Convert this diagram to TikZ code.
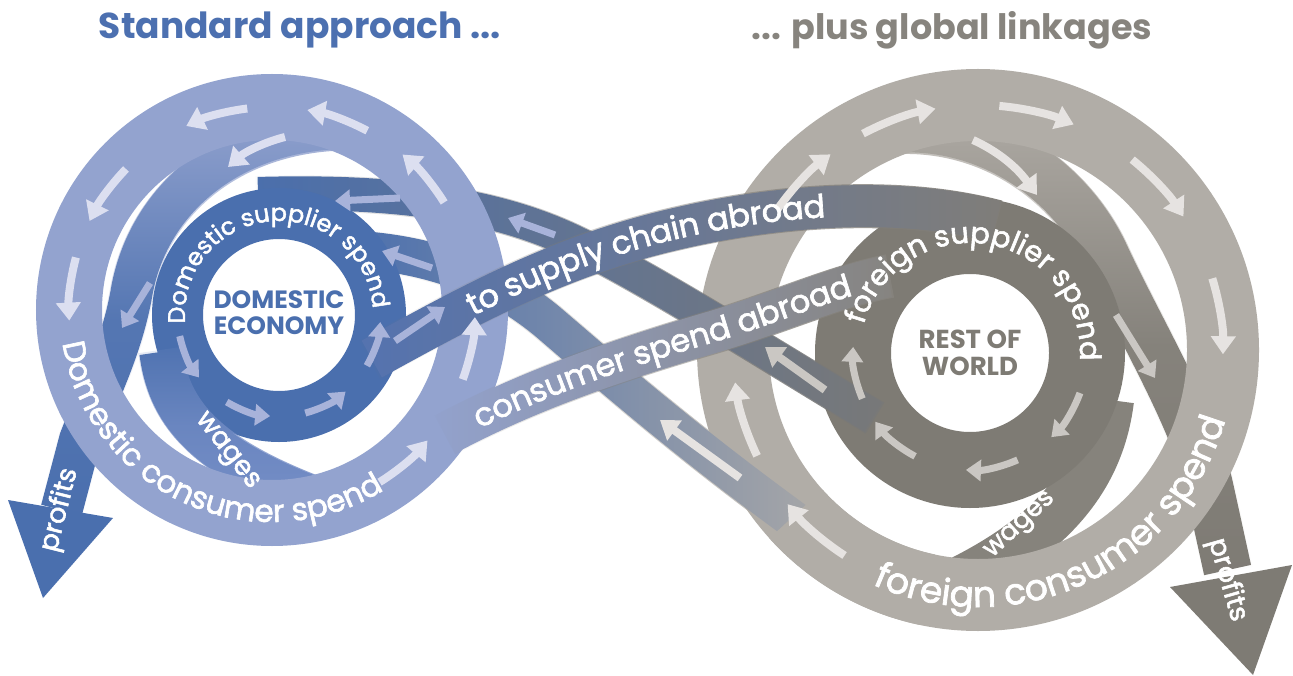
\documentclass[tikz,border=0pt]{standalone}
\usepackage{fontspec}
\setmainfont{Poppins}
\newfontfamily\labf{Poppins}[FakeBold=2]
\usetikzlibrary{arrows.meta,decorations.text,fadings}
\tikzfading[name=fadeR, left color=transparent!100, right color=transparent!0]
\tikzfading[name=fadeB, top color=transparent!100, bottom color=transparent!0, middle color=transparent!30]
\tikzfading[name=fadeT, top color=transparent!0, bottom color=transparent!100, middle color=transparent!85]
\definecolor{lb}{HTML}{93A3CF}
\definecolor{db}{HTML}{4A6FAE}
\definecolor{mb}{HTML}{7890C8}
\definecolor{lg}{HTML}{B1ADA7}
\definecolor{dg}{HTML}{7E7B74}
\definecolor{sg}{HTML}{86837D}
\definecolor{slate}{HTML}{74777C}
\definecolor{arrlb}{HTML}{DCDFF0}
\definecolor{arrdb}{HTML}{A8B3DA}
\definecolor{arrlg}{HTML}{E6E3E1}
\definecolor{arrdg}{HTML}{CAC7C3}
\definecolor{tblue}{HTML}{4C70B0}
\definecolor{tgray}{HTML}{87847E}
\definecolor{sblue}{HTML}{5473B1}
\newcommand\ringarr[5]{\draw[#1] (#2) ++({-(#4)}:#3) arc[start angle={-(#4)}, end angle={-(#5)}, radius=#3];}
\newcommand\arctext[6]{\path[decorate, decoration={text along path, text align=center, text={|#6|#5}}] (#1) ++({-(#3)}:#2) arc[start angle={-(#3)}, end angle={-(#4)}, radius=#2];}
% gradient band: #1 path, #2 width, #3 start colour, #4 end colour, #5 fading
\newcommand\gband[5]{%
  \draw[#3, line width=#2-2pt, shorten >=2pt, shorten <=2pt] #1;
  \draw[#4, line width=#2, path fading=#5] #1;}
\def\lspiral{(345,128) .. controls (235,130) and (150,195) .. (132,290) .. controls (122,350) and (95,400) .. (80,440) -- (61,512)}
\def\rspiral{(880,130) .. controls (985,118) and (1070,180) .. (1105,255) .. controls (1140,330) and (1195,420) .. (1210,490) -- (1228,572)}
\def\gone{(256,194) .. controls (400,190) and (500,205) .. (580,245) .. controls (660,285) and (770,355) .. (875,418)}
\def\gtwo{(360,250) .. controls (440,256) and (500,282) .. (548,322) .. controls (610,375) and (700,455) .. (850,560)}
\def\sone{(370,360) .. controls (470,305) and (560,255) .. (680,228) .. controls (780,205) and (900,196) .. (998,222)}
\def\stwo{(445,435) .. controls (520,395) and (600,365) .. (713,332) .. controls (780,312) and (840,285) .. (890,276)}
\def\lwages{(160,350) .. controls (168,410) and (200,455) .. (320,500)}
\def\bandfont{\color{white}\labf\fontsize{32}{32}\selectfont}
\begin{document}
\begin{tikzpicture}[x=1pt,y=-1pt,
  arr/.style={line width=8pt, -{Triangle[length=18pt,width=24pt]}},
  sarr/.style={line width=7pt, -{Triangle[length=15pt,width=21pt]}},
  lab/.style={text=white, inner sep=0pt}]
\fill[white] (0,0) rectangle (1293,676);
\useasboundingbox (0,0) rectangle (1293,676);
\coordinate (LC) at (272,310);
\coordinate (DC) at (279,315);
\coordinate (RC) at (978,350);
\coordinate (RD) at (970,353);
% spirals with profits arrows
\gband{\lspiral}{44pt}{db}{lb}{fadeT}
\fill[db] (8,500) -- (113,518) -- (43,598) -- cycle;
\gband{\rspiral}{50pt}{dg}{lg}{fadeT}
\fill[dg] (1170,587) -- (1292,565) -- (1253,675) -- cycle;
% right wages band and inner ring
\draw[dg!85!lg, line width=48pt] (1110,400) .. controls (1100,480) and (1050,540) .. (940,590);
\draw[dg, line width=76pt] (RD) circle[radius=117];
% right outer ring
\draw[lg, line width=72pt] (RC) circle[radius=245];
% flows from abroad
\gband{\gtwo}{40pt}{db}{lg}{fadeR}
\gband{\gone}{36pt}{db}{slate!55!dg}{fadeR}
\draw[lg, line width=72pt] (RC) ++(-222:245) arc[start angle=-222, end angle=-258, radius=245];
% left inner ring and wages band
\draw[db, line width=51pt] (DC) circle[radius=101.5];
\gband{\lwages}{44pt}{db}{mb}{fadeB}
% left outer ring
\draw[lb, line width=66pt] (LC) circle[radius=203];
% flows abroad
\gband{\stwo}{44pt}{lb}{sg}{fadeR}
\gband{\sone}{44pt}{sblue}{sg!40!dg}{fadeR}
% arrows
\foreach \a in {41,71,106,145,174,311,349} {\ringarr{arr,arrlb}{LC}{203}{\a-9}{\a+9}}
\foreach \a in {205,252,298,343} {\ringarr{sarr,arrdb}{DC}{101.5}{\a-13}{\a+13}}
\foreach \a in {136,109,76,42,8,196.6,228} {\ringarr{arr,arrlg}{RC}{245}{\a+9}{\a-9}}
\foreach \a in {190,229,281,327} {\ringarr{sarr,arrdg}{RD}{117}{\a+13}{\a-13}}
\draw[arr, arrlb] (285,137) .. controls (265,142) and (245,152) .. (228,167);
\draw[sarr, arrdb] (150,283) -- (122,328);
\draw[sarr, arrdb] (400,198) -- (335,201);
\draw[sarr, arrdb] (555,235) -- (508,218);
\draw[arr, arrdg] (825,390) -- (765,347);
\draw[sarr, arrdb] (432,268) -- (382,251);
\draw[arr, arrlg] (740,478) -- (660,420);
\draw[sarr, arrdb] (395,341) -- (445,307);
\draw[arr, arrlg] (973,140) .. controls (995,150) and (1015,165) .. (1037,195);
\draw[sarr, arrdg] (1116,315) -- (1155,378);
% texts
\node[font=\bfseries\fontsize{36}{36}\selectfont, text=tblue] (t1) at (300,30) {Standard approach ...};
\node[font=\bfseries\fontsize{35}{35}\selectfont, text=tgray] (t2) at (952,30) {... plus global linkages};
\node[font=\bfseries\fontsize{25}{26}\selectfont, text=db, align=center] (dom) at (279,313) {DOMESTIC\\ECONOMY};
\node[font=\bfseries\fontsize{26}{27}\selectfont, text=dg, align=center] (row) at (970,353) {REST OF\\WORLD};
\arctext{LC}{212}{180}{311}{Domestic consumer spend}{\color{white}\labf\fontsize{31}{31}\selectfont}
\arctext{RC}{257}{225}{365}{foreign consumer spend}{\color{white}\labf\fontsize{36}{36}\selectfont}
\arctext{DC}{94}{205}{-16}{Domestic supplier spend}{\color{white}\labf\fontsize{24}{24}\selectfont}
\arctext{RD}{110}{190}{-29}{foreign supplier spend}{\color{white}\labf\fontsize{29}{29}\selectfont}
\path[decorate, decoration={text along path, raise=-10pt, text align={left, left indent=112pt}, text={|\bandfont|to supply chain abroad}}] \sone;
\path[decorate, decoration={text along path, raise=-10pt, text align={left, left indent=34pt}, text={|\bandfont|consumer spend abroad}}] \stwo;
\node[lab, rotate=76, font=\labf\fontsize{27}{27}\selectfont] (p1) at (60,510) {profits};
\node[lab, rotate=-74, font=\labf\fontsize{27}{27}\selectfont] (p2) at (1227,580) {profits};
\node[lab, rotate=-52, font=\labf\fontsize{27}{27}\selectfont] (w1) at (226,452) {wages};
\node[lab, rotate=43, font=\labf\fontsize{26}{26}\selectfont] (w2) at (1021,526) {wages};
\end{tikzpicture}
\end{document}
